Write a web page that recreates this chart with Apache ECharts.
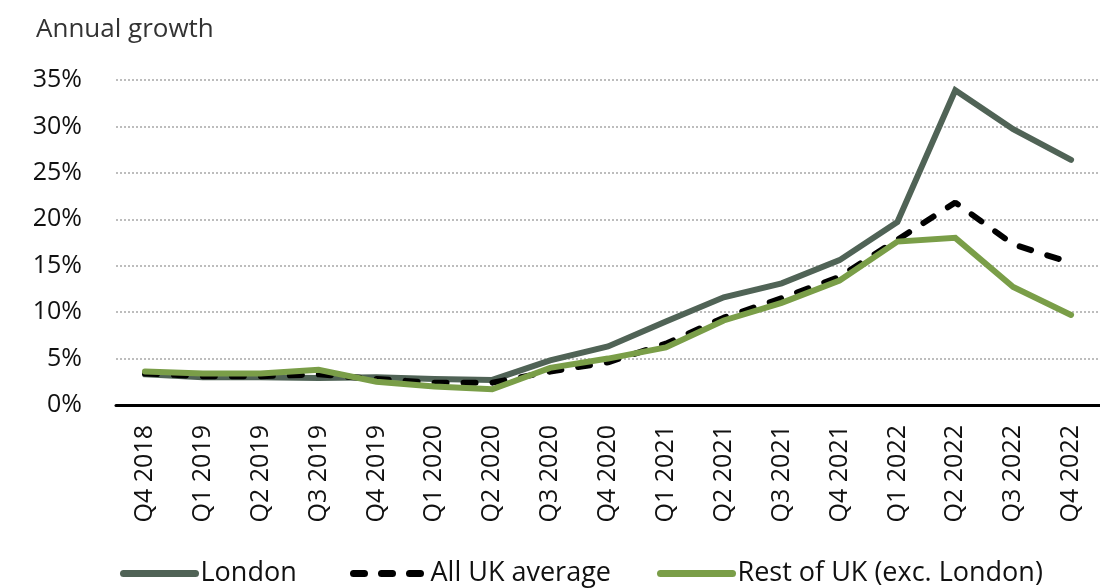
<!DOCTYPE html>
<html>
<head>
<meta charset="utf-8">
<script src="https://cdn.jsdelivr.net/npm/echarts@6/dist/echarts.min.js"></script>
<style>
  html, body { margin: 0; padding: 0; background: #fff; }
  #chart { width: 1100px; height: 588px; }
</style>
</head>
<body>
<div id="chart"></div>
<script>
// Quarterly annual growth rates (%)
const quarters = ['Q4 2018','Q1 2019','Q2 2019','Q3 2019','Q4 2019','Q1 2020','Q2 2020','Q3 2020','Q4 2020',
                  'Q1 2021','Q2 2021','Q3 2021','Q4 2021','Q1 2022','Q2 2022','Q3 2022','Q4 2022'];
const london   = [3.3, 3.0, 3.0, 2.9, 3.0, 2.8, 2.7, 4.8, 6.3, 9.0, 11.6, 13.1, 15.6, 19.7, 33.9, 29.7, 26.4];
const allUK    = [3.4, 3.1, 3.1, 3.3, 2.8, 2.4, 2.4, 3.6, 4.6, 6.6, 9.4, 11.5, 13.8, 17.8, 21.8, 17.3, 15.3];
const restOfUK = [3.6, 3.4, 3.4, 3.8, 2.5, 2.0, 1.7, 4.0, 5.0, 6.2, 9.1, 11.0, 13.4, 17.6, 18.0, 12.7, 9.7];
const seriesNames = ['London', 'All UK average', 'Rest of UK (exc. London)'];
const yTicks = { min: 0, max: 35, interval: 5 };

const FONT = '"Open Sans", "Noto Sans", sans-serif';
const FS = 25;
const C_LONDON = '#506356';
const C_ALL = '#000000';
const C_REST = '#7a9e48';
const DASH = [12, 17];

// one legend block per series so each key sits at its own spot
const legendLefts = [120, 350, 657];
const legendLines = [
  { color: C_LONDON, width: 7, cap: 'round' },
  { color: C_ALL, width: 7, cap: 'round', type: [11, 17] },
  { color: C_REST, width: 7, cap: 'round' }
];
const legends = seriesNames.map((name, i) => ({
  left: legendLefts[i], top: 560, padding: 0,
  itemWidth: 72, itemHeight: 14,
  textStyle: { fontFamily: FONT, fontSize: 27, color: '#111111' },
  data: [{ name, itemStyle: { opacity: 0 }, lineStyle: legendLines[i] }]
}));

const chart = echarts.init(document.getElementById('chart'), null, { renderer: 'canvas' });

chart.setOption({
  animation: false,
  backgroundColor: '#ffffff',
  textStyle: { fontFamily: FONT },
  title: {
    text: 'Annual growth',
    left: 31, top: 12,
    textStyle: { fontFamily: FONT, fontSize: 26, fontWeight: 'normal', color: '#333333' }
  },
  grid: { left: 116, right: -14, top: 80, bottom: 183, containLabel: false },
  legend: legends,
  xAxis: {
    type: 'category',
    data: quarters,
    boundaryGap: true,
    axisLine: { lineStyle: { color: '#000000', width: 3 } },
    axisTick: { show: false },
    axisLabel: { rotate: 90, margin: 20, interval: 0, fontFamily: FONT, fontSize: FS, color: '#111111' },
    splitLine: { show: false }
  },
  yAxis: {
    type: 'value',
    min: yTicks.min, max: yTicks.max, interval: yTicks.interval,
    axisLine: { show: false },
    axisTick: { show: false },
    axisLabel: { margin: 34, fontFamily: FONT, fontSize: FS, color: '#111111', formatter: '{value}%' },
    splitLine: { lineStyle: { color: '#a8a8a8', width: 1.5, type: [2, 2] } }
  },
  series: [
    {
      name: seriesNames[0], type: 'line', data: london, symbol: 'none', z: 2,
      lineStyle: { color: C_LONDON, width: 6, cap: 'round', join: 'miter' },
      itemStyle: { color: C_LONDON }
    },
    {
      name: seriesNames[1], type: 'line', data: allUK, symbol: 'none', z: 3,
      lineStyle: { color: C_ALL, width: 6, cap: 'round', type: DASH },
      itemStyle: { color: C_ALL }
    },
    {
      name: seriesNames[2], type: 'line', data: restOfUK, symbol: 'none', z: 4,
      lineStyle: { color: C_REST, width: 6, cap: 'round', join: 'miter' },
      itemStyle: { color: C_REST }
    }
  ]
});
</script>
</body>
</html>
